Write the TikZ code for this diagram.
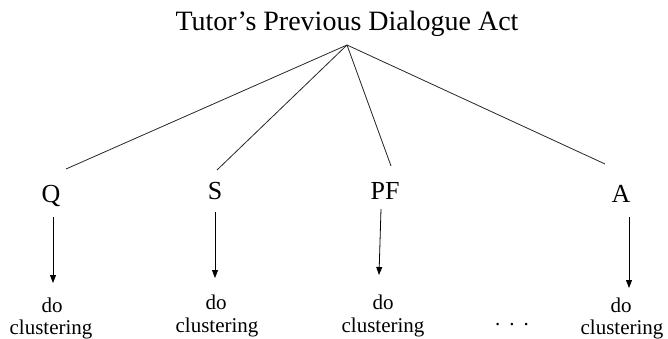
\documentclass[tikz,border=0pt]{standalone}
\usepackage{fontspec}
\setmainfont{Liberation Serif}
\usetikzlibrary{arrows.meta,calc}

\tikzset{
  titletext/.style={anchor=base, inner sep=0pt, font=\fontsize{28}{32}\selectfont},
  acttext/.style={anchor=base, inner sep=0pt, font=\fontsize{26}{30}\selectfont},
  steptext/.style={anchor=base, inner sep=0pt, font=\fontsize{21}{24}\selectfont},
  branch/.style={line width=0.8pt, draw=black!85},
  flow/.style={line width=0.8pt, -{Triangle[length=8pt,width=6pt]}},
}

\begin{document}
\begin{tikzpicture}[x=1pt, y=-1pt]
  \useasboundingbox (0,0) rectangle (668,339);

  % root of the tree
  \node[titletext] (title) at (347,31) {Tutor’s Previous Dialogue Act};
  \coordinate (apex) at (347,45);

  % dialogue act categories
  \node[acttext] (Q)  at (51,202)  {Q};
  \node[acttext] (S)  at (215,199) {S};
  \node[acttext] (PF) at (385,199) {PF};
  \node[acttext] (A)  at (621,202) {A};

  % branches from the root
  \draw[branch] (apex) -- ($(Q.base)+(15,-33)$);
  \draw[branch] (apex) -- ($(S.base)+(2,-29)$);
  \draw[branch] (apex) -- ($(PF.base)+(6,-33)$);
  \draw[branch] (apex) -- ($(A.base)+(-16,-38)$);

  % clustering step under each category
  \node[steptext] (doQ)  at (52,312)  {do};
  \node[steptext] (clQ)  at (51,334)  {clustering};
  \node[steptext] (doS)  at (216,309) {do};
  \node[steptext] (clS)  at (217,332) {clustering};
  \node[steptext] (doPF) at (383,309) {do};
  \node[steptext] (clPF) at (383,332) {clustering};
  \node[steptext] (doA)  at (621,312) {do};
  \node[steptext] (clA)  at (622,334) {clustering};

  \node[steptext] (more) at (512,325) {.\hspace{9pt}.\hspace{9pt}.};

  % arrows into the clustering steps
  \draw[flow] ($(Q.base)+(2,15)$)   -- ($(doQ.base)+(1,-29)$);
  \draw[flow] ($(S.base)+(0,13)$)   -- ($(doS.base)+(-1,-31)$);
  \draw[flow] ($(PF.base)+(-4,10)$) -- ($(doPF.base)+(-4,-34)$);
  \draw[flow] ($(A.base)+(8,15)$)   -- ($(doA.base)+(8,-24)$);
\end{tikzpicture}
\end{document}
